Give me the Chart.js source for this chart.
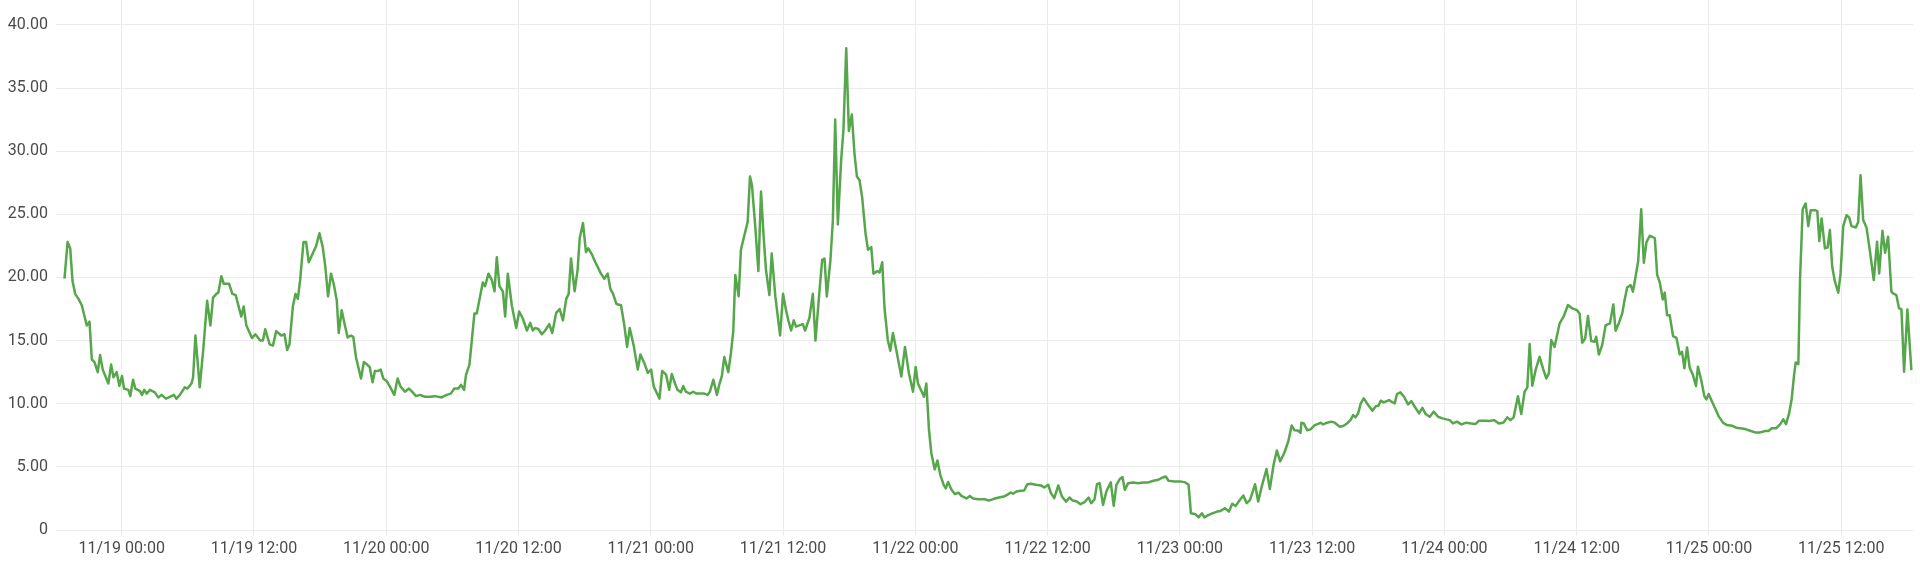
<!DOCTYPE html>
<html>
<head>
<meta charset="utf-8">
<title>Chart</title>
<script src="https://cdn.jsdelivr.net/npm/chart.js@4"></script>
<style>
  html, body { margin: 0; padding: 0; background: #fff; }
  #wrap { width: 1920px; height: 564px; position: relative; }
</style>
</head>
<body>
<div id="wrap"><canvas id="myChart"></canvas></div>
<script>
// hours counted from 11/19 00:00
const hours = [
  -5.19, -4.91, -4.67, -4.46, -4.22, -3.92, -3.62, -3.17, -2.92, -2.71, -2.47, -2.17, -1.96, -1.72, -1.21, -0.96, -0.75, -0.45, -0.21,
  0.03, 0.21, 0.60, 0.78, 1.03, 1.24, 1.66, 1.84, 2.05, 2.26, 2.56, 3.01, 3.32, 3.62, 4.01, 4.37, 4.73, 4.97, 5.28, 5.73, 5.97,
  6.33, 6.48, 6.69, 7.08, 7.39, 7.75, 8.05, 8.29, 8.59, 8.77, 9.04, 9.26, 9.74, 10.04, 10.34, 10.85, 11.06, 11.31, 11.82,
  12.12, 12.57, 12.81, 13.02, 13.42, 13.72, 14.02, 14.47, 14.77, 15.01, 15.22, 15.53, 15.77, 15.98, 16.19, 16.49, 16.73, 16.97,
  17.33, 17.64, 17.94, 18.24, 18.48, 18.72, 18.99, 19.23, 19.51, 19.69, 19.96, 20.20, 20.50, 20.80, 21.01, 21.25, 21.71,
  21.97, 22.27, 22.5, 22.76, 22.97, 23.27, 23.5, 23.73, 24.03, 24.33, 24.73, 25.03, 25.3, 25.7, 26.06, 26.3, 26.7, 27.06,
  27.5, 27.97, 28.42, 29.03, 29.48, 29.85, 30.18, 30.55, 30.79, 31.06, 31.24, 31.55, 32.0, 32.21, 32.76, 32.97, 33.27, 33.58,
  33.82, 34.03, 34.27, 34.58, 34.79, 35.03, 35.39, 35.79, 36.06, 36.39, 36.76, 37.06, 37.3, 37.52, 37.82, 38.12, 38.42, 38.79,
  39.06, 39.42, 39.73, 40.03, 40.33, 40.55, 40.76, 41.09, 41.36, 41.55, 41.85, 42.12, 42.33, 42.67, 42.97, 43.48, 43.79, 44.09,
  44.33, 44.58, 44.88, 45.3, 45.6, 45.85, 46.09, 46.45, 46.82, 47.06, 47.42, 47.73, 48.03, 48.27, 48.58, 48.79, 49.03, 49.39,
  49.67, 49.9, 50.2, 50.42, 50.73, 50.94, 51.18, 51.55, 51.85, 52.15, 52.55, 52.85, 53.15, 53.36, 53.67, 54.0, 54.21, 54.45,
  54.67, 55.03, 55.27, 55.48, 55.67, 55.97, 56.18, 56.48, 56.79, 57.0, 57.18, 57.48, 57.76, 58.0, 58.24, 58.45, 58.76, 58.97,
  59.3, 59.73, 60.0, 60.27, 60.48, 60.73, 60.97, 61.18, 61.48, 61.79, 62.0, 62.39, 62.7, 62.94, 63.3, 63.55, 63.76, 63.97,
  64.3, 64.52, 64.73, 64.97, 65.27, 65.48, 65.73, 65.97, 66.24, 66.48, 66.7, 66.94, 67.18, 67.48, 67.7, 68.0, 68.2, 68.55,
  68.76, 69.0, 69.2, 69.5, 69.73, 69.97, 70.33, 70.73, 71.06, 71.42, 71.79, 72.03, 72.24, 72.55, 72.79, 73.0, 73.24, 73.45,
  73.76, 74.0, 74.27, 74.58, 74.76, 74.97, 75.27, 75.58, 75.94, 76.18, 76.64, 76.94, 77.24, 77.7, 78.3,
  78.67, 79.13, 79.58, 80.04, 80.44, 80.65, 80.86, 81.17, 81.56, 81.87, 82.17, 82.48, 82.93, 83.39, 83.7, 84.06, 84.3, 84.6,
  84.97, 85.3, 85.68, 85.98, 86.28, 86.65, 86.99, 87.35, 87.72, 87.96, 88.26, 88.48, 88.72, 89.03, 89.33, 89.73, 90.0, 90.24,
  90.55, 90.79, 91.0, 91.31, 91.77, 92.22, 92.68, 93.14, 93.6, 94.05, 94.45, 94.72, 94.97, 95.42, 96.03, 96.49, 96.79, 97.0,
  97.4, 97.7, 98.0, 98.22, 98.62, 99.0, 99.38, 99.69, 100.08, 100.45, 100.75, 101.06, 101.45, 101.76, 102.06, 102.37, 102.82,
  103.1, 103.43, 103.86, 104.16, 104.5, 104.8, 105.1, 105.47, 105.84, 106.14, 106.39, 106.7, 106.94,
  107.03, 107.24, 107.55, 107.85, 108.24, 108.54, 108.79, 109.0, 109.36, 109.75, 110.05, 110.5, 110.81, 111.17, 111.47, 111.72,
  111.93, 112.17, 112.41, 112.68, 113.08, 113.47, 113.77, 114.01, 114.22, 114.5, 114.98, 115.19, 115.49, 115.7, 116.0, 116.34,
  116.7, 117.0, 117.31, 117.7, 118.0, 118.3, 118.66, 119.03, 119.42, 119.82, 120.18, 120.48, 120.78, 121.14, 121.54, 121.99,
  122.44, 122.83, 123.14, 123.65, 124.1, 124.5, 124.95, 125.37, 125.7, 125.98, 126.28, 126.67, 126.97, 127.27, 127.52, 127.73,
  127.97, 128.27, 128.63, 128.94, 129.24, 129.48, 129.69, 129.99, 130.45, 130.81, 131.2, 131.6, 132.02, 132.26, 132.5, 132.77,
  133.02, 133.32, 133.62, 133.77, 134.01, 134.31, 134.62,
  135.02, 135.32, 135.53, 135.83, 136.13, 136.34, 136.58, 136.89, 137.1, 137.34, 137.58, 137.85, 138.09, 138.33, 138.63, 138.9,
  139.09, 139.3, 139.54, 139.81, 139.99, 140.2, 140.44, 140.74, 141.05, 141.35, 141.56, 141.77, 142.01, 142.25, 142.55, 142.82,
  143.0, 143.31, 143.58, 143.76, 143.97, 144.42, 144.87, 145.27, 145.63, 146.08, 146.47, 146.83, 147.29, 147.74, 148.19, 148.64,
  149.1, 149.4, 149.7, 150.09, 150.45, 150.75, 150.99, 151.27, 151.51, 151.72, 151.87, 152.11, 152.26, 152.5, 152.77, 153.01,
  153.23, 153.62, 153.83, 154.01, 154.22, 154.52, 154.76, 154.97, 155.18, 155.43, 155.73, 155.94, 156.18, 156.48, 156.72, 156.93,
  157.32, 157.54, 157.75, 157.99, 158.29, 158.59, 158.95, 159.25, 159.44, 159.74, 159.98, 160.25, 160.55, 160.7, 161.0, 161.24,
  161.46, 161.7, 162.0, 162.36
];

const values = [
  19.9, 22.8, 22.3, 19.7, 18.7, 18.3, 17.8, 16.2, 16.5, 13.5, 13.3, 12.5, 13.85, 12.7, 11.6, 13.1, 12.1, 12.5, 11.4,
  12.2, 11.2, 11.1, 10.6, 11.9, 11.2, 11.0, 10.7, 11.1, 10.8, 11.1, 10.9, 10.5, 10.7, 10.4, 10.55, 10.7, 10.4, 10.7, 11.3, 11.2,
  11.6, 12.1, 15.4, 11.3, 14.2, 18.15, 16.2, 18.4, 18.7, 18.8, 20.1, 19.5, 19.5, 18.7, 18.6, 16.9, 17.7, 16.2, 15.2,
  15.5, 15.0, 15.0, 15.9, 14.7, 14.6, 15.75, 15.4, 15.5, 14.25, 14.7, 17.7, 18.7, 18.3, 19.8, 22.8, 22.8, 21.2,
  21.9, 22.5, 23.5, 22.4, 20.8, 18.5, 20.3, 19.5, 18.2, 15.6, 17.4, 16.4, 15.25, 15.4, 15.3, 13.7, 12.0,
  13.3, 13.1, 12.9, 11.7, 12.6, 12.6, 12.7, 12.0, 11.8, 11.35, 10.7, 12.0, 11.35, 10.95, 11.2, 11.0, 10.6, 10.7,
  10.55, 10.55, 10.6, 10.5, 10.7, 10.8, 11.2, 11.2, 11.5, 11.1, 12.3, 13.1, 17.15, 17.15, 19.6, 19.3, 20.3, 19.8,
  18.9, 21.6, 19.3, 18.9, 16.9, 20.3, 17.8, 16.0, 17.3, 16.75, 15.8, 16.4, 15.8, 16.0, 15.9, 15.5, 15.8, 16.3,
  15.6, 17.2, 17.5, 16.6, 18.3, 18.7, 21.5, 18.9, 20.6, 23.1, 24.3, 22.0, 22.3, 21.8, 21.2, 20.3, 19.9, 20.3,
  19.1, 18.7, 17.9, 17.8, 16.2, 14.5, 16.0, 14.6, 12.7, 13.9, 13.2, 12.45, 12.7, 11.35, 10.8, 10.4, 12.6, 12.3,
  11.1, 12.36, 11.6, 11.1, 10.9, 11.4, 10.95, 10.8, 10.95, 10.8, 10.8, 10.8, 10.7, 10.95, 11.9, 10.7, 11.5, 12.2,
  13.7, 12.5, 14.0, 15.7, 20.2, 18.5, 22.2, 23.3, 24.4, 28.0, 27.3, 24.0, 20.5, 26.8, 23.2, 20.6, 18.6, 21.9,
  18.5, 15.4, 18.7, 17.4, 16.6, 15.8, 16.6, 16.1, 16.2, 16.3, 15.8, 16.8, 18.7, 15.0, 18.9, 21.4, 21.5, 18.5,
  21.4, 24.55, 32.5, 24.2, 29.3, 31.7, 38.15, 31.6, 32.9, 29.8, 28.0, 27.7, 26.3, 23.5, 22.2, 22.4, 20.3, 20.5,
  20.4, 21.2, 17.6, 15.05, 14.2, 15.6, 14.0, 12.15, 14.5, 12.4, 10.95, 12.9, 11.6, 11.0, 10.55, 11.6, 7.9, 6.1,
  4.8, 5.5, 4.35, 3.55, 3.3, 3.8, 3.2, 2.85, 2.95, 2.7, 2.5, 2.7, 2.5, 2.43, 2.43,
  2.33, 2.47, 2.57, 2.65, 2.84, 2.97, 2.87, 3.05, 3.1, 3.13, 3.63, 3.66, 3.58, 3.53, 3.37, 3.58, 2.92, 2.52,
  3.53, 2.65, 2.25, 2.57, 2.33, 2.25, 2.04, 2.2, 2.57, 2.12, 2.44, 3.63, 3.71, 1.99, 3.05, 3.77, 1.91, 3.58,
  4.03, 4.19, 3.18, 3.71, 3.77, 3.71, 3.77, 3.77, 3.9, 3.98, 4.16, 4.24, 3.9, 3.85, 3.85, 3.77, 3.58, 1.33,
  1.25, 1.0, 1.33, 1.0, 1.19, 1.33, 1.46, 1.51, 1.72, 1.46, 2.07, 1.91, 2.39, 2.73, 2.12, 2.39, 3.63,
  2.25, 3.45, 4.83, 3.24, 5.17, 6.29, 5.44, 6.1, 7.03, 8.28, 7.9, 7.88, 7.69,
  8.5, 8.44, 7.9, 7.97, 8.3, 8.4, 8.5, 8.36, 8.5, 8.58, 8.5, 8.18, 8.23, 8.44, 8.7, 9.1,
  8.92, 9.23, 10.03, 10.42, 9.9, 9.45, 9.8, 9.84, 10.24, 10.1, 10.29, 10.16, 10.03, 10.77, 10.9, 10.55,
  9.95, 10.21, 9.76, 9.23, 9.68, 9.18, 8.97, 9.37, 8.97, 8.84, 8.76, 8.7, 8.44, 8.58, 8.36, 8.5,
  8.44, 8.4, 8.65, 8.65, 8.63, 8.7, 8.44, 8.52, 8.92, 8.7, 8.92, 10.6, 9.18, 10.95, 11.29, 14.72,
  11.42, 12.66, 13.72, 12.8, 12.0, 12.4, 15.04, 14.5, 16.36, 16.89, 17.81, 17.55, 17.41, 17.15, 14.83, 15.17,
  16.94, 14.96, 14.91, 15.3, 13.9, 14.64, 16.2,
  16.36, 17.86, 15.78, 16.4, 17.15, 18.2, 19.2, 19.4, 18.87, 20.05, 21.3, 25.4, 21.16, 22.8, 23.3, 23.2,
  23.1, 20.2, 19.6, 18.26, 18.8, 17.0, 17.0, 15.36, 15.22, 13.9, 14.1, 12.8, 14.46, 12.85, 12.27, 11.4,
  12.93, 11.82, 10.6, 10.34, 10.77, 9.9, 9.02, 8.5, 8.31, 8.26, 8.1, 8.05, 7.99, 7.86, 7.73, 7.73,
  7.84, 7.84, 8.05, 8.05, 8.36, 8.76, 8.39, 9.23, 10.42, 12.27, 13.27, 13.14, 19.79, 25.4, 25.86, 24.06,
  25.33, 25.33, 25.25, 22.88, 24.67, 22.3, 22.37, 23.75, 20.84, 19.66, 18.79, 20.32, 24.06, 24.93, 24.75, 24.06,
  23.96, 24.4, 28.1, 24.54, 23.96, 22.16, 19.79, 22.82, 20.32, 23.69, 21.95, 23.22, 18.87, 18.73, 18.6, 17.55,
  17.49, 12.53, 17.47, 12.66
];

const xTicks = [0, 12, 24, 36, 48, 60, 72, 84, 96, 108, 120, 132, 144, 156];
const xTickLabels = ['11/19 00:00', '11/19 12:00', '11/20 00:00', '11/20 12:00', '11/21 00:00', '11/21 12:00',
  '11/22 00:00', '11/22 12:00', '11/23 00:00', '11/23 12:00', '11/24 00:00', '11/24 12:00', '11/25 00:00', '11/25 12:00'];
const yTicks = [0, 5, 10, 15, 20, 25, 30, 35, 40];
const yTickLabels = ['0', '5.00', '10.00', '15.00', '20.00', '25.00', '30.00', '35.00', '40.00'];

const ctx = document.getElementById('myChart');
const textColor = '#4b4b4b';
const gridColor = '#ebebeb';

new Chart(ctx, {
  type: 'line',
  data: {
    datasets: [{
      label: 'value',
      data: hours.map((h, i) => ({ x: h, y: values[i] })),
      borderColor: '#56a64b',
      borderWidth: 2.5,
      borderJoinStyle: 'round',
      pointRadius: 0,
      tension: 0,
      fill: false
    }]
  },
  options: {
    responsive: true,
    maintainAspectRatio: false,
    animation: false,
    layout: { padding: { top: 0, right: 7, left: 0, bottom: 0 } },
    plugins: { legend: { display: false }, tooltip: { enabled: false } },
    scales: {
      x: {
        type: 'linear',
        min: -5.96,
        max: 162.51,
        afterBuildTicks: (axis) => { axis.ticks = xTicks.map(v => ({ value: v })); },
        afterFit: (axis) => { axis.height = 34; axis.paddingLeft = 0; axis.paddingRight = 0; },
        ticks: {
          autoSkip: false,
          maxRotation: 0,
          padding: 3,
          color: textColor,
          font: { family: 'Roboto', size: 16 },
          callback: (v) => xTickLabels[xTicks.indexOf(v)]
        },
        grid: { color: gridColor, drawTicks: true, tickLength: 6 },
        border: { display: false }
      },
      y: {
        min: 0,
        max: 41.97,
        afterBuildTicks: (axis) => { axis.ticks = yTicks.map(v => ({ value: v })); },
        afterFit: (axis) => { axis.width = 56; axis.paddingTop = 0; axis.paddingBottom = 0; },
        ticks: {
          padding: 8,
          color: textColor,
          font: { family: 'Roboto', size: 16 },
          callback: (v) => yTickLabels[yTicks.indexOf(v)]
        },
        grid: { color: gridColor, drawTicks: false },
        border: { display: false }
      }
    }
  }
});
</script>
</body>
</html>
